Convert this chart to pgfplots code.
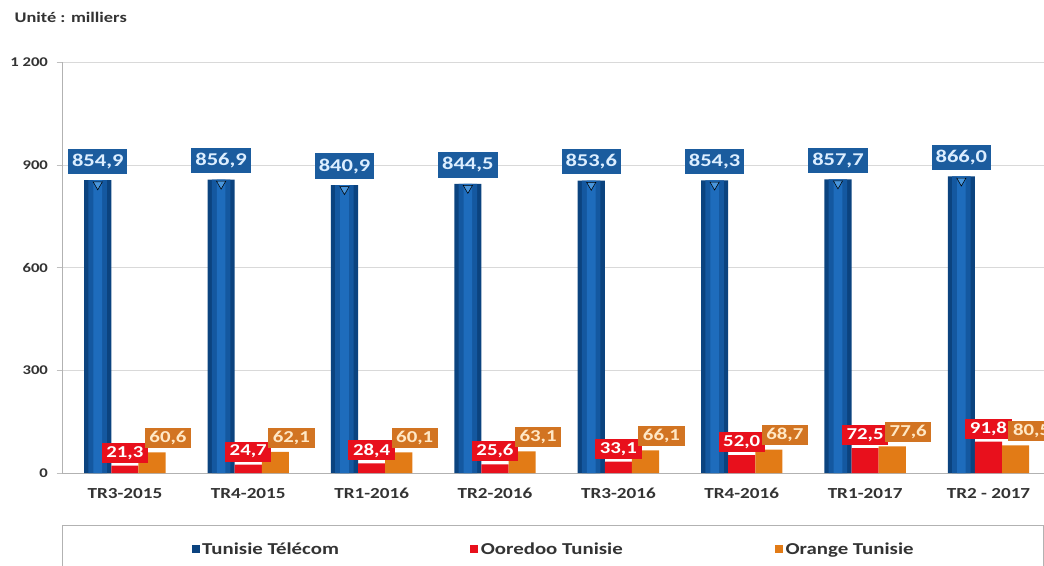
\documentclass[border=0pt]{standalone}
\usepackage{fontspec}
\setmainfont{Carlito}[FakeStretch=1.25]
\usepackage{pgfplots}
\usepackage{pgfplotstable}
\pgfplotsset{compat=1.18}

\definecolor{ttBlue}{HTML}{1458A0}
\definecolor{ttBlueDark}{HTML}{0B437F}
\definecolor{ttBlueLight}{HTML}{1E6CBC}
\definecolor{ttTri}{HTML}{4A96DC}
\definecolor{ooRed}{HTML}{E8101C}
\definecolor{orOrange}{HTML}{E27B16}
\definecolor{lblBlue}{HTML}{1B5C9E}
\definecolor{lblBlueText}{HTML}{DCEEFF}
\definecolor{lblOrange}{HTML}{D27422}
\definecolor{lblOrangeText}{HTML}{FFE8C6}
\definecolor{gridGray}{HTML}{D9D9D9}

% Unité : milliers
\pgfplotstableread{
x tt    oo   or
0 854.9 21.3 60.6
1 856.9 24.7 62.1
2 840.9 28.4 60.1
3 844.5 25.6 63.1
4 853.6 33.1 66.1
5 854.3 52.0 68.7
6 857.7 72.5 77.6
7 866.0 91.8 80.5
}\abonnes

\begin{document}
\begin{tikzpicture}
\pgfplotsset{
  myleg/.style={legend image code/.code={\fill[##1] (0pt,-3pt) rectangle (6pt,3pt);}},
  numfmt/.style={nodes near coords={\pgfmathprintnumber[fixed,fixed zerofill,precision=1,use comma,assume math mode=true]{\pgfplotspointmeta}}},
}
\begin{axis}[
  scale only axis,
  width=736.5pt, height=308.25pt,
  ybar=0pt, bar width=0.22,
  xmin=-0.51, xmax=7.45,
  ymin=0, ymax=1200,
  xtick={0,...,7},
  xticklabels={TR3-2015,TR4-2015,TR1-2016,TR2-2016,TR3-2016,TR4-2016,TR1-2017,TR2 - 2017},
  xtick style={draw=none},
  extra x ticks={-0.5,0.5,1.5,2.5,3.5,4.5,5.5,6.5},
  extra x tick labels={},
  extra x tick style={grid=none, tick style={draw=gray!50}, major tick length=3pt, tick align=outside},
  ytick={0,300,600,900,1200},
  yticklabels={0,300,600,900,1 200},
  ytick style={draw=gray!50},
  tick align=outside, major tick length=4pt,
  axis x line*=bottom, axis y line*=left,
  axis line style={gray!60, -},
  ymajorgrids, grid style={gridGray},
  xticklabel style={font=\bfseries\fontsize{11.5}{12}\selectfont, text=black!80, yshift=-4pt},
  yticklabel style={font=\bfseries\fontsize{10}{10}\selectfont, text=black!80, xshift=-3pt},
  clip=false,
  legend style={at={(rel axis cs:0,-0.1265)}, anchor=north west, draw=gray!60,
    inner xsep=97pt, inner ysep=11pt,
    font=\bfseries\fontsize{12.5}{13}\selectfont, text=black!80,
    /tikz/every even column/.append style={column sep=0pt}},
  legend columns=3,
]
% Tunisie Télécom : barre en trois couches (effet de dégradé)
\addplot[draw=none, fill=ttBlueDark, bar shift=-0.22, myleg]
  table[x=x, y=tt] {\abonnes};
\addlegendentry{\makebox[199pt][l]{Tunisie Télécom}}
\addplot[draw=none, fill=ttBlue, bar shift=-0.22, bar width=0.15, forget plot]
  table[x=x, y=tt] {\abonnes};
\addplot[draw=none, fill=ttBlueLight, bar shift=-0.22, bar width=0.07, forget plot,
  numfmt,
  nodes near coords style={fill=lblBlue, text=lblBlueText,
    font=\bfseries\fontsize{13.5}{14}\selectfont, inner xsep=3pt, inner ysep=1pt,
    minimum height=19pt, anchor=south, yshift=4.5pt}]
  table[x=x, y=tt] {\abonnes};
% Ooredoo Tunisie
\addplot[draw=none, fill=ooRed, bar shift=0, myleg,
  numfmt,
  nodes near coords style={fill=ooRed, text=white,
    font=\bfseries\fontsize{12.5}{13}\selectfont, inner xsep=3.5pt, inner ysep=1pt,
    minimum height=15pt, anchor=south, yshift=2pt}]
  table[x=x, y=oo] {\abonnes};
\addlegendentry{\makebox[218.5pt][l]{Ooredoo Tunisie}}
% Orange Tunisie
\addplot[draw=none, fill=orOrange, bar shift=0.22, myleg,
  numfmt,
  nodes near coords style={fill=lblOrange, text=lblOrangeText,
    font=\bfseries\fontsize{12.5}{13}\selectfont, inner xsep=3.5pt, inner ysep=1pt,
    minimum height=15pt, anchor=south, yshift=3pt, xshift=12pt}]
  table[x=x, y=or] {\abonnes};
\addlegendentry{\makebox[94.5pt][l]{Orange Tunisie}}
% pointes des étiquettes bleues
\addplot[only marks, mark=triangle*, forget plot,
  mark options={rotate=180, fill=ttTri, draw=none, scale=2, yshift=1.6pt}]
  table[x expr=\thisrow{x}-0.22, y=tt] {\abonnes};

\node[anchor=west, font=\bfseries\fontsize{11}{12}\selectfont, text=black!80]
  at (rel axis cs:-0.053,1.109) {Unité : milliers};
\coordinate (bbl) at (rel axis cs:-0.0631,-0.2238);
\coordinate (btr) at (rel axis cs:1,1.1509);
\end{axis}
\pgfresetboundingbox
\useasboundingbox (bbl) rectangle (btr);
\end{tikzpicture}
\end{document}
